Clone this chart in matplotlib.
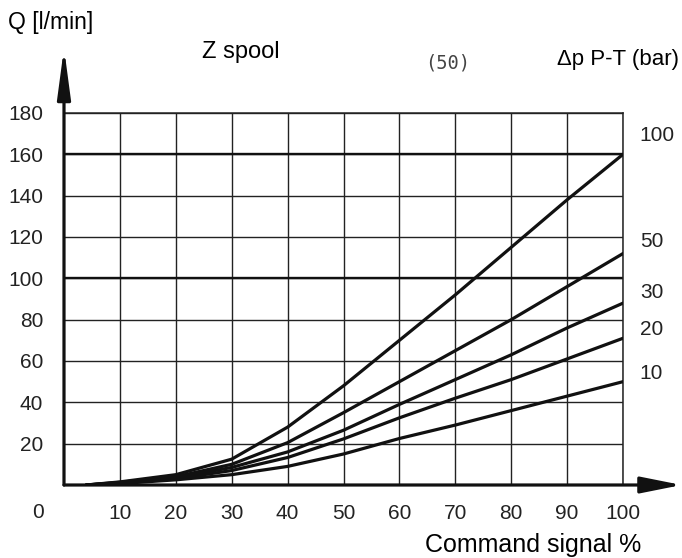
import matplotlib
matplotlib.use('Agg')
import matplotlib.pyplot as plt

plt.rcParams['font.family'] = ['Liberation Sans', 'DejaVu Sans']

# Command signal % where the readings were taken
signal = [4, 10, 20, 30, 40, 50, 60, 70, 80, 90, 100]

# Flow Q [l/min] per pressure drop (bar)
q_100 = [0, 1.5, 5, 12.5, 28, 48, 70, 92, 115, 138, 160]
q_50 = [0, 1.3, 4, 10, 20.5, 35, 50, 65, 80, 96, 112]
q_30 = [0, 1.1, 3.5, 8.5, 16, 26.5, 39, 51, 63, 76, 88]
q_20 = [0, 0.9, 3, 7, 13.3, 22.3, 32.5, 42, 51, 61, 71]
q_10 = [0, 0.7, 2.5, 5, 9, 15, 22.5, 29, 36, 43, 50]

curves = [q_100, q_50, q_30, q_20, q_10]
curve_labels = ['100', '50', '30', '20', '10']
label_y = [169, 118, 93, 75, 54]

x_ticks = [10, 20, 30, 40, 50, 60, 70, 80, 90, 100]
y_ticks = [20, 40, 60, 80, 100, 120, 140, 160, 180]
bold_rows = [100, 160]

W, H = 682, 558
fig = plt.figure(figsize=(W / 100, H / 100), dpi=100)
ax = fig.add_axes([64 / W, (H - 485) / H, 559 / W, 372 / H])
ax.set_xlim(0, 100)
ax.set_ylim(0, 180)

for side in ['left', 'bottom']:
    ax.spines[side].set_visible(False)
for side in ['top', 'right']:
    ax.spines[side].set_linewidth(1.1)
    ax.spines[side].set_color('#222222')

ax.set_xticks(x_ticks)
ax.set_xticklabels([str(v) for v in x_ticks])
ax.set_yticks(y_ticks)
ax.set_yticklabels([str(v) for v in y_ticks])
ax.tick_params(length=0, labelsize=15, colors='#222222')
ax.tick_params(axis='y', pad=15)
ax.tick_params(axis='x', pad=14)
ax.grid(True, color='#222222', lw=1.0)
for r in bold_rows:
    ax.axhline(r, color='#111111', lw=1.7, zorder=2)

for q in curves:
    ax.plot(signal, q, color='#111111', lw=2.3, solid_capstyle='round', zorder=4)

for lab, yy in zip(curve_labels, label_y):
    ax.text(103, yy, lab, fontsize=15, color='#222222', va='center', ha='left')

# axes with arrow heads
ax.annotate('', xy=(110.5, 0), xytext=(0, 0), annotation_clip=False,
            arrowprops=dict(arrowstyle='-|>,head_length=25,head_width=5', mutation_scale=1,
                            lw=2.3, color='#111111', shrinkA=0, shrinkB=0), zorder=5)
ax.annotate('', xy=(0, 211.5), xytext=(0, 0), annotation_clip=False,
            arrowprops=dict(arrowstyle='-|>,head_length=30,head_width=4', mutation_scale=1,
                            lw=2.3, color='#111111', shrinkA=0, shrinkB=0), zorder=5)

ax.annotate('0', xy=(0, 0), xytext=(-19, -20), textcoords='offset points',
            ha='center', va='center', fontsize=15, color='#222222', annotation_clip=False)

fig.text(8 / W, 1 - 23 / H, 'Q [l/min]', fontsize=16.5, va='center', ha='left')
fig.text(202 / W, 1 - 52 / H, 'Z spool', fontsize=17, va='center', ha='left')
fig.text(425 / W, 1 - 63 / H, '(50)', fontsize=13.5, va='center', ha='left',
         family='DejaVu Sans Mono', color='#444444')
fig.text(557 / W, 1 - 59 / H, '\u0394p P-T (bar)', fontsize=16, va='center', ha='left')
fig.text(641 / W, 1 - 545 / H, 'Command signal %', fontsize=18, va='center', ha='right')

fig.savefig('out.png', dpi=100)
